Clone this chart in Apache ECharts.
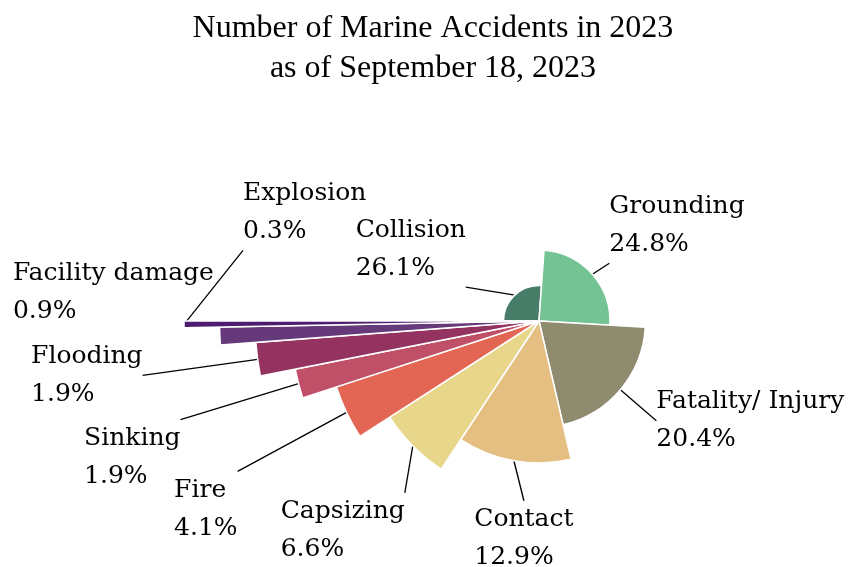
<!DOCTYPE html>
<html>
<head>
<meta charset="utf-8">
<script src="https://cdn.jsdelivr.net/npm/echarts@6/dist/echarts.min.js"></script>
<style>
  html, body { margin: 0; padding: 0; background: #ffffff; }
  #chart { width: 849px; height: 567px; }
</style>
</head>
<body>
<div id="chart"></div>
<script>
// Accident categories in drawing order (clockwise from 9 o'clock), with their shares in %
const categories = ['Collision', 'Grounding', 'Fatality/ Injury', 'Contact', 'Capsizing',
                    'Fire', 'Sinking', 'Flooding', 'Facility damage', 'Explosion'];
const shares = [26.1, 24.8, 20.4, 12.9, 6.6, 4.1, 1.9, 1.9, 0.9, 0.3];

// Slice colours
const sliceColors = ['#467c68', '#74c395', '#8f8b6e', '#e5be81', '#e8d68b',
                     '#e26653', '#bf5068', '#94335f', '#66397b', '#4d1b6f'];

// Leader line for each label: offset from the slice's outer-edge midpoint
// to the label corner it attaches to (t/m/b + l/c/r)
const leaderOffsets = [[-49, -8], [17, -11], [36, 31], [10, 40], [-8, 47],
                       [-109, 59], [-118, 36], [-115, 16], [-6, -6], [59, -74]];
const leaderCorners = ['br', 'bl', 'ml', 'tc', 'tr', 'tr', 'tr', 'mr', 'br', 'bl'];
const leaderVisible = [true, true, true, true, true, true, true, true, false, true];

const RING_STEP = 35.5;        // each successive slice reaches one step further out
const CENTER = [539, 321];
const LABEL_FONT = 'DejaVu Serif';

const chart = echarts.init(document.getElementById('chart'), null, { renderer: 'canvas' });

function pieData(active) {
  return categories.map((name, i) => {
    const on = i === active;
    return {
      name: name,
      value: shares[i],
      itemStyle: on
        ? { color: sliceColors[i], borderColor: '#ffffff', borderWidth: 1.5 }
        : { color: 'rgba(0,0,0,0)', borderWidth: 0 },
      label: { show: on },
      labelLine: { show: on && leaderVisible[i] }
    };
  });
}

function makeLayout(k) {
  return function (p) {
    const pts = p.labelLinePoints;
    if (!pts) return {};
    const sx = pts[0][0], sy = pts[0][1];
    const ex = sx + leaderOffsets[k][0], ey = sy + leaderOffsets[k][1];
    const w = p.labelRect.width, h = p.labelRect.height;
    const c = leaderCorners[k];
    let left = ex, top = ey;
    if (c[1] === 'r') left = ex - w; else if (c[1] === 'c') left = ex - w / 2;
    if (c[0] === 'b') top = ey - h; else if (c[0] === 'm') top = ey - h / 2;
    return {
      x: left, y: top, align: 'left', verticalAlign: 'top',
      labelLinePoints: [[sx, sy], [ex, ey]]
    };
  };
}

// One pie per category: all pies share the same angular layout, and only
// the category's own slice is painted, at its own radius.
const series = categories.map((name, k) => ({
  type: 'pie',
  center: CENTER,
  radius: [0, RING_STEP * (k + 1)],
  startAngle: 180,
  clockwise: true,
  avoidLabelOverlap: false,
  minShowLabelAngle: 0,
  silent: true,
  z: 2,
  label: {
    position: 'outside',
    formatter: '{b}\n{c}%',
    fontFamily: LABEL_FONT,
    fontSize: 25,
    lineHeight: 38,
    color: '#000000'
  },
  labelLine: {
    length: 0,
    length2: 0,
    lineStyle: { color: '#000000', width: 1.3 }
  },
  emphasis: { disabled: true },
  labelLayout: makeLayout(k),
  data: pieData(k)
}));

chart.setOption({
  animation: false,
  backgroundColor: '#ffffff',
  title: {
    text: 'Number of Marine Accidents in 2023\nas of September 18, 2023',
    left: '51%',
    top: 9,
    textAlign: 'center',
    padding: 0,
    textStyle: {
      fontFamily: 'Liberation Serif',
      fontSize: 32,
      fontWeight: 'normal',
      lineHeight: 40,
      color: '#000000'
    }
  },
  series: series
});
</script>
</body>
</html>
